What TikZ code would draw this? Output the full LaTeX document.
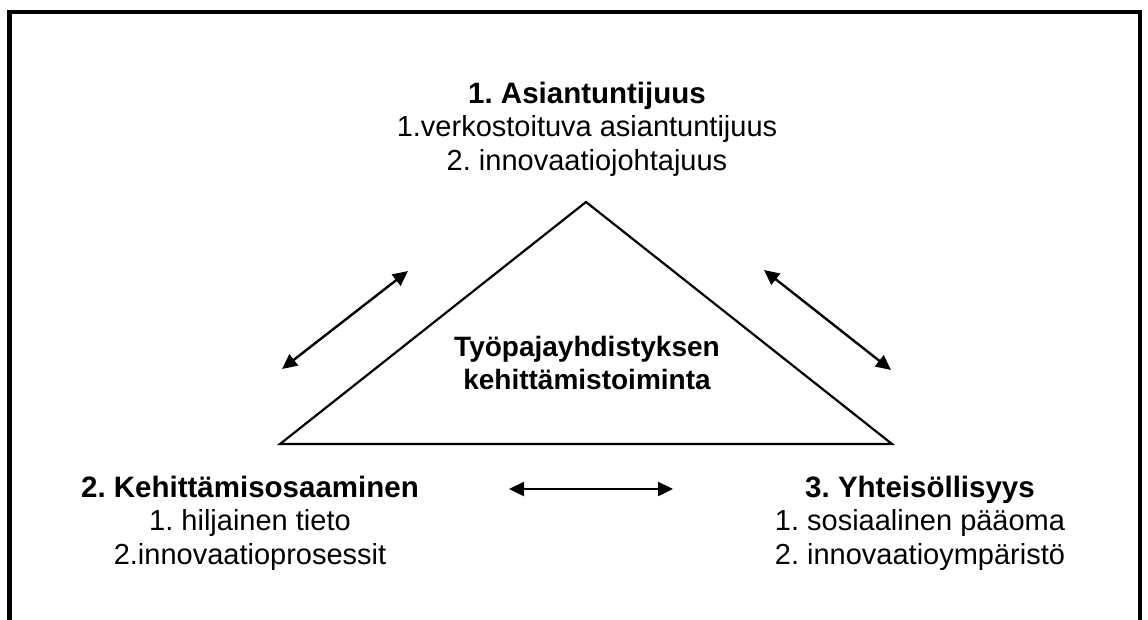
\documentclass[tikz,border=0pt]{standalone}
\usepackage{fontspec}
\setmainfont{Liberation Sans}
\usetikzlibrary{arrows.meta}
\tikzset{
  frame/.style={line width=4.5pt},
  tri/.style={line width=2.2pt, line join=miter},
  dbl/.style={line width=2.4pt, {Triangle[length=15pt,width=14pt]}-{Triangle[length=15pt,width=14pt]}},
  block/.style={align=center, inner sep=0pt, font=\fontsize{29}{33.5}\selectfont\frenchspacing},
  mid/.style={font=\fontsize{28}{33}\selectfont\bfseries\frenchspacing}
}
\newcommand{\hdtext}[1]{{\fontsize{29.5}{33.5}\selectfont\bfseries #1}}
\begin{document}
\begin{tikzpicture}[x=1pt,y=-1pt]
\useasboundingbox (0,0) rectangle (1148,619);
\clip (0,0) rectangle (1148,619);
\draw[frame] (9.5,640) -- (9.5,12) -- (1140,12) -- (1140,640);
% triangle
\coordinate (apex) at (586,202);
\coordinate (bl) at (280,444);
\coordinate (br) at (892,444);
\draw[tri] (apex) -- (bl) -- (br) -- cycle;
\node[block, mid] (center) at (587,363) {Työpajayhdistyksen\\kehittämistoiminta};
% text blocks
\node[block] (top) at (587,129) {\hdtext{1. Asiantuntijuus}\\1.verkostoituva asiantuntijuus\\2. innovaatiojohtajuus};
\node[block] (left) at (250,523) {\hdtext{2. Kehittämisosaaminen}\\1. hiljainen tieto\\2.innovaatioprosessit};
\node[block] (right) at (920,523) {\hdtext{3. Yhteisöllisyys}\\1. sosiaalinen pääoma\\2. innovaatioympäristö};
% arrows
\coordinate (la) at (282,369);
\coordinate (lb) at (408,271);
\coordinate (ra) at (764,270);
\coordinate (rb) at (891,370);
\coordinate (ba) at (509,489);
\coordinate (bb) at (673,489);
\draw[dbl] (la) -- (lb);
\draw[dbl] (ra) -- (rb);
\draw[dbl] (ba) -- (bb);
\end{tikzpicture}
\end{document}
